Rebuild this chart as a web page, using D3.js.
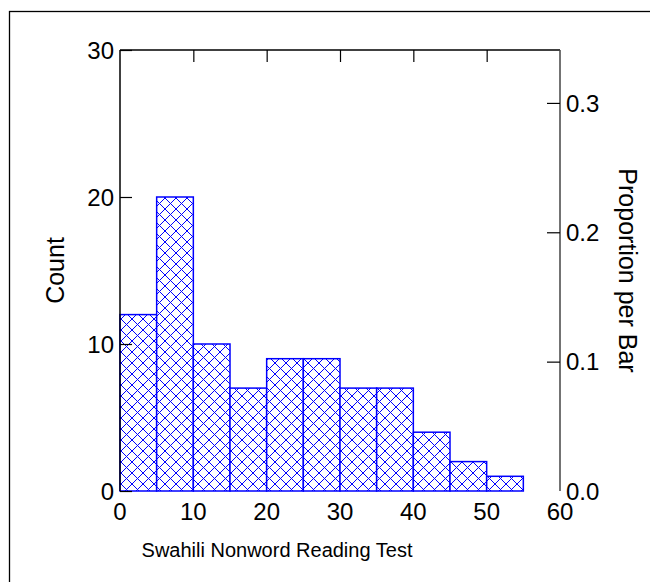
<!DOCTYPE html>
<html><head><meta charset="utf-8">
<script src="https://cdn.jsdelivr.net/npm/d3@7"></script>
<style>body{margin:0;background:#fff}svg{display:block}text{font-family:"Liberation Sans",Arial,sans-serif;fill:#000}</style>
</head><body>
<script>
const binStarts = [0,5,10,15,20,25,30,35,40,45,50,55];
const binWidth = 5;
const counts = [12,20,10,7,9,9,7,7,4,2,1,0];
const xTicks = [0,10,20,30,40,50,60];
const countTicks = [0,10,20,30];
const propTicks = [0.0,0.1,0.2,0.3];
const xLabel = "Swahili Nonword Reading Test";
const yLabel = "Count";
const y2Label = "Proportion per Bar";

const W = 650, H = 582;
const m = {left:120, right:90, top:50, bottom:91};
const total = d3.sum(counts);
const svg = d3.select("body").append("svg").attr("width",W).attr("height",H);

const defs = svg.append("defs");
const pat = defs.append("pattern").attr("id","hatch").attr("patternUnits","userSpaceOnUse")
  .attr("width",11).attr("height",11);
pat.append("rect").attr("width",11).attr("height",11).attr("fill","#fff");
pat.append("path").attr("d","M0,0L11,11M0,11L11,0M-1,1L1,-1M10,12L12,10M-1,10L1,12M10,-1L12,1")
  .attr("stroke","#0000ff").attr("stroke-width",1).attr("fill","none");

// outer frame (only top and left visible)
svg.append("rect").attr("x",9.5).attr("y",11.5).attr("width",W+20).attr("height",H+20)
  .attr("fill","none").attr("stroke","#000").attr("stroke-width",1.3);

const x = d3.scaleLinear().domain([0,60]).range([m.left, W-m.right]);
const y = d3.scaleLinear().domain([0,30]).range([H-m.bottom, m.top]);
const y2 = d3.scaleLinear().domain([0,30/total]).range([H-m.bottom, m.top]);

// bars
svg.append("g").selectAll("rect").data(counts).join("rect")
  .attr("x",(d,i)=>x(binStarts[i]))
  .attr("y",d=>y(d))
  .attr("width",(d,i)=>x(binStarts[i]+binWidth)-x(binStarts[i]))
  .attr("height",d=>y(0)-y(d))
  .attr("fill","url(#hatch)")
  .attr("stroke","#0000ff").attr("stroke-width",1.5);

// frame lines
svg.append("line").attr("x1",x(0)).attr("x2",x(0)).attr("y1",y(0)).attr("y2",y(30)).attr("stroke","#000").attr("stroke-width",1.5);
svg.append("line").attr("x1",x(0)).attr("x2",x(60)).attr("y1",y(30)).attr("y2",y(30)).attr("stroke","#000").attr("stroke-width",1.5);
svg.append("line").attr("x1",x(60)).attr("x2",x(60)).attr("y1",y(0)).attr("y2",y(30)).attr("stroke","#444").attr("stroke-width",1.5);

const fs = 24;
// left axis
const gl = svg.append("g").attr("transform",`translate(${x(0)},0)`)
  .call(d3.axisRight(y).tickValues(countTicks).tickSize(12).tickFormat(""));
gl.select(".domain").remove();
gl.selectAll("line").attr("stroke","#000").attr("stroke-width",1.2);
svg.append("g").selectAll("text").data(countTicks).join("text")
  .attr("x",x(0)-6).attr("y",d=>y(d)).attr("dy","0.36em").attr("text-anchor","end")
  .attr("font-size",fs).text(d=>d);

// top axis ticks
const gt = svg.append("g").attr("transform",`translate(0,${y(30)})`)
  .call(d3.axisBottom(x).tickValues(xTicks.slice(1,-1)).tickSize(12).tickFormat(""));
gt.select(".domain").remove();
gt.selectAll("line").attr("stroke","#000").attr("stroke-width",1.2);

// bottom tick labels
svg.append("g").selectAll("text").data(xTicks).join("text")
  .attr("x",d=>x(d)).attr("y",y(0)+29).attr("text-anchor","middle")
  .attr("font-size",fs).text(d=>d);

// right axis
const gr = svg.append("g").attr("transform",`translate(${x(60)},0)`)
  .call(d3.axisLeft(y2).tickValues(propTicks.slice(1)).tickSize(13).tickFormat(""));
gr.select(".domain").remove();
gr.selectAll("line").attr("stroke","#000").attr("stroke-width",1.2);
svg.append("g").selectAll("text").data(propTicks).join("text")
  .attr("x",x(60)+6).attr("y",d=>y2(d)).attr("dy","0.36em").attr("text-anchor","start")
  .attr("font-size",fs).text(d=>d.toFixed(1));

// labels
svg.append("text").attr("x",277).attr("y",557).attr("text-anchor","middle")
  .attr("font-size",20).text(xLabel);
svg.append("text").attr("transform",`translate(64,${(y(0)+y(30))/2}) rotate(-90)`)
  .attr("text-anchor","middle").attr("font-size",25).text(yLabel);
svg.append("text").attr("transform",`translate(619,${(y(0)+y(30))/2}) rotate(90)`)
  .attr("text-anchor","middle").attr("font-size",25).text(y2Label);
</script>
</body></html>
